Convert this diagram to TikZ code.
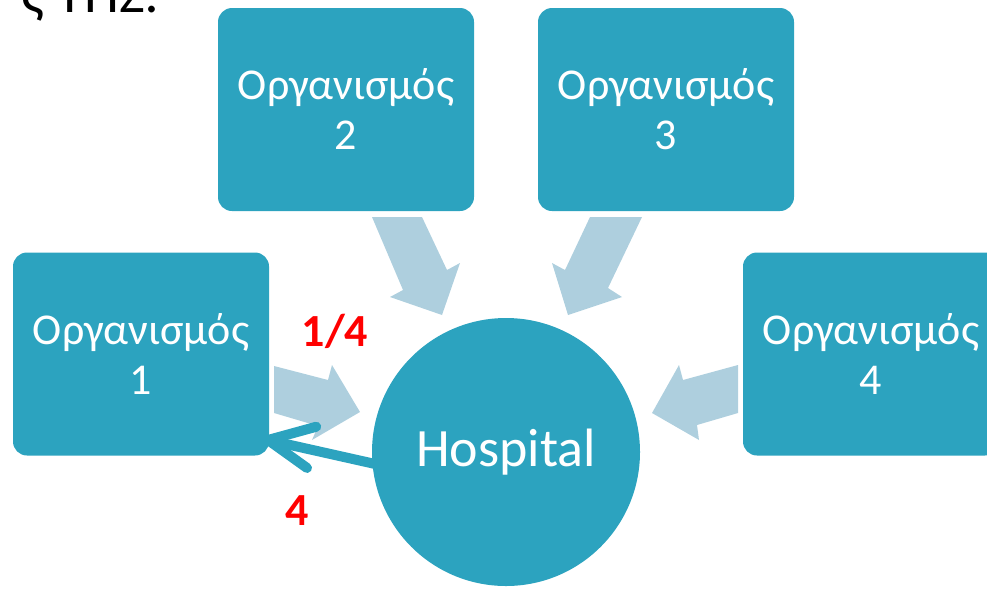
\documentclass[tikz,border=0pt]{standalone}
\usepackage{fontspec}
\setmainfont{Carlito}
\usetikzlibrary{calc,backgrounds}
\definecolor{tealbox}{RGB}{44,163,191}
\definecolor{lightarr}{RGB}{174,207,222}
\definecolor{labred}{RGB}{255,0,0}
\tikzset{
  orgbox/.style={rectangle, rounded corners=14pt, fill=tealbox, text=white,
    minimum width=256pt, minimum height=203pt, inner sep=0pt, align=center,
    font=\fontsize{44}{50}\selectfont},
  hospnode/.style={circle, fill=tealbox, text=white, minimum size=268pt,
    inner sep=0pt, font=\fontsize{54}{60}\selectfont},
  blockarrow/.style={fill=lightarr, draw=none},
  backline/.style={draw=tealbox, line width=10pt, line cap=round, line join=round},
  numlabel/.style={text=labred, font=\fontsize{46}{50}\selectfont\bfseries, inner sep=0pt}
}
\begin{document}
\begin{tikzpicture}[x=1pt,y=-1pt]
\useasboundingbox (0,0) rectangle (987,590);
\clip (0,0) rectangle (987,590);
% cut-off title
\node[anchor=base east, inner sep=0pt, font=\fontsize{56}{60}\selectfont] (title) at (160,12) {ς ΤΗΣ:};
% boxes
\node[orgbox] (b1) at (141,354) {Οργανισμός\\1};
\node[orgbox] (b2) at (346,109.5) {Οργανισμός\\2};
\node[orgbox] (b3) at (666,109.5) {Οργανισμός\\3};
\node[orgbox] (b4) at (871,354) {Οργανισμός\\4};
\node[hospnode] (H) at (506,452) {Hospital};
% labels
\node[numlabel] (l14) at (335,331) {1/4};
\node[numlabel] (l4) at (297,511) {4};
\begin{scope}[on background layer]
  % block arrows
  \fill[blockarrow] (372,217) -- (422,217) -- (447,270) -- (460,263) -- (442,315) -- (390,297) -- (403,290) -- cycle;
  \fill[blockarrow] (590,217) -- (642,217) -- (608,288) -- (622,297) -- (568,315) -- (552,263) -- (565,270) -- cycle;
  \fill[blockarrow] (274,366) -- (328,380) -- (332,365) -- (360,412) -- (312,440) -- (318,426) -- (274,413) -- cycle;
  \fill[blockarrow] (738,365) -- (683,380) -- (679,365) -- (652,413) -- (699,440) -- (697,425) -- (738,413) -- cycle;
  % back arrow from hospital to box 1
  \coordinate (s) at ($(H.186)!8pt!(H.center)$);
  \coordinate (t) at (268,440);
  \draw[backline] (s) -- (t);
  \draw[backline] ($(t)!50pt!28:(s)$) -- (t) -- ($(t)!48pt!-23:(s)$);
\end{scope}
\end{tikzpicture}
\end{document}
